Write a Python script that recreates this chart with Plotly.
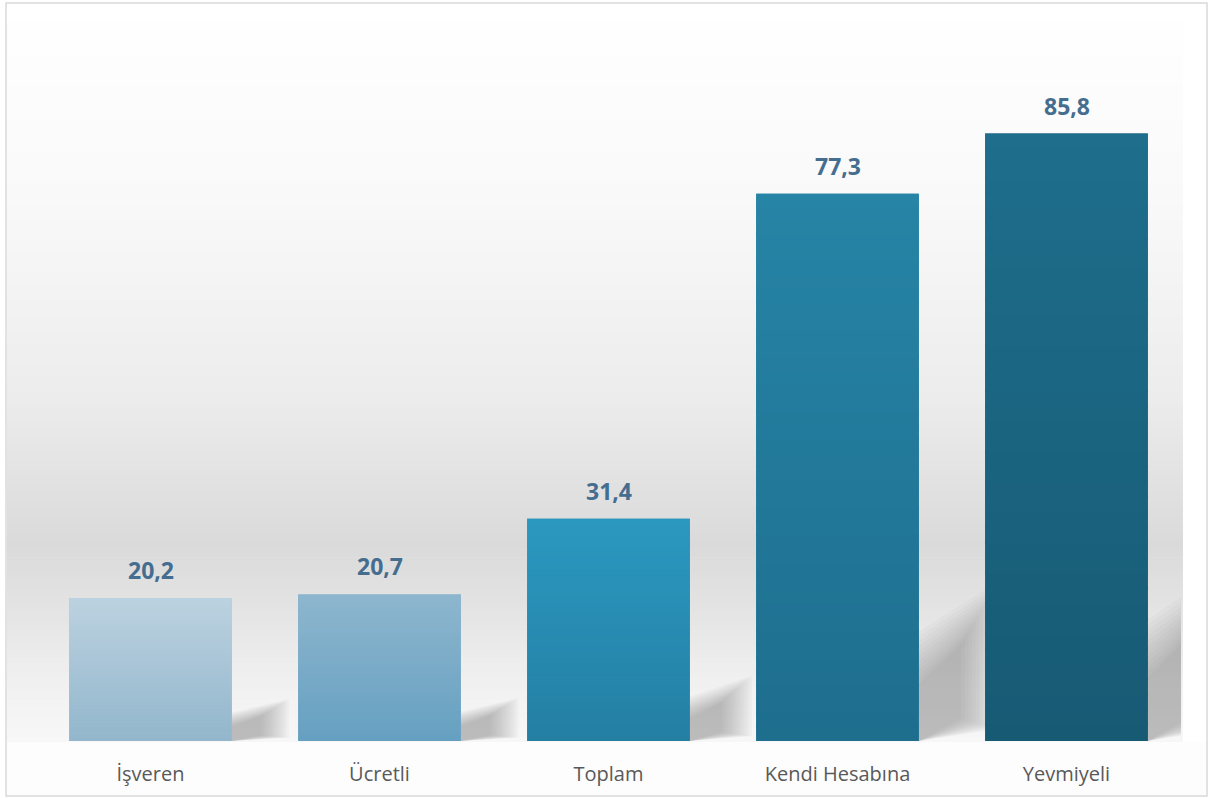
import plotly.graph_objects as go

categories = ["İşveren", "Ücretli", "Toplam", "Kendi Hesabına", "Yevmiyeli"]
values = [20.2, 20.7, 31.4, 77.3, 85.8]
bar_top_colors = ["#BCD2E0", "#8EB6CE", "#2B98C0", "#2684A6", "#1E6E8C"]
bar_bottom_colors = ["#92B6CC", "#65A0C1", "#247FA3", "#1E6E8E", "#175A74"]

W, H = 1211, 798
ML, MR, MT, MB = 36, 30, 33, 57
PW = W - ML - MR
PH = H - MT - MB
BAR_W = 0.71


def px_x(px):
    return (px - ML) / PW


def px_y(py):
    return (H - MB - py) / PH


def hex2rgb(h):
    h = h.lstrip("#")
    return [int(h[i:i + 2], 16) for i in (0, 2, 4)]


def mix(c0, c1, f):
    a, b = hex2rgb(c0), hex2rgb(c1)
    return "rgb(%d,%d,%d)" % tuple(round(x + (y - x) * f) for x, y in zip(a, b))


def lerp_col(stops, t):
    for (t0, c0), (t1, c1) in zip(stops, stops[1:]):
        if t0 <= t <= t1:
            f = 0 if t1 == t0 else (t - t0) / (t1 - t0)
            return int(round(c0 + (c1 - c0) * f))
    return stops[-1][1]


# background wall gradient (pixel y, gray level)
bg_stops = [(4, 255), (200, 249), (400, 236), (545, 218), (600, 226), (680, 240), (742, 247)]
shapes = []
N = 160
y_top, y_bot = 4, 742
for k in range(N):
    a = y_top + (y_bot - y_top) * k / N
    b = y_top + (y_bot - y_top) * (k + 1) / N
    g = lerp_col(bg_stops, (a + b) / 2)
    shapes.append(dict(type="rect", xref="paper", yref="paper",
                       x0=px_x(7), x1=px_x(1183), y0=px_y(b) - 0.0005, y1=px_y(a) + 0.0005,
                       fillcolor=f"rgb({g},{g},{g})", line=dict(width=0), layer="below"))
shapes.append(dict(type="rect", xref="paper", yref="paper",
                   x0=px_x(7), x1=px_x(1206), y0=px_y(795), y1=px_y(742),
                   fillcolor="#fdfdfd", line=dict(width=0), layer="below"))

# soft shadows to the right of each bar
NL = 12
for i, v in enumerate(values):
    xr = i + BAR_W / 2
    dx0 = 0.17 + 0.0015 * v
    for k in range(NL):
        e = -0.35 + 0.6 * k / (NL - 1)
        dx = dx0 * (1 + e)
        path = (f"M {xr},{0} L {xr},{0.16 * v * (1 + e)} "
                f"L {xr + dx},{0.245 * v * (1 + e * 0.8)} L {xr + dx},{0.03 * v * (1 - e)} Z")
        shapes.append(dict(type="path", xref="x", yref="y", path=path,
                           fillcolor="rgba(90,90,90,0.038)", line=dict(width=0), layer="below"))

# vertical gradient on the bars
NS = 40
for i, v in enumerate(values):
    for k in range(NS):
        y0 = v * k / NS
        y1 = v * (k + 1) / NS
        f = 1 - (k + 0.5) / NS
        shapes.append(dict(type="rect", xref="x", yref="y",
                           x0=i - BAR_W / 2, x1=i + BAR_W / 2, y0=y0, y1=min(v, y1 + v * 0.004),
                           fillcolor=mix(bar_top_colors[i], bar_bottom_colors[i], f),
                           line=dict(width=0), layer="above"))

# outer chart border
shapes.append(dict(type="rect", xref="paper", yref="paper",
                   x0=px_x(6), x1=px_x(1207), y0=px_y(796), y1=px_y(3),
                   fillcolor="rgba(0,0,0,0)", line=dict(color="#d9d9d9", width=1.5), layer="above"))

fig = go.Figure()
fig.add_trace(go.Bar(
    x=list(range(len(categories))), y=values, width=BAR_W,
    marker=dict(color=[mix(t, b, 0.5) for t, b in zip(bar_top_colors, bar_bottom_colors)],
                line=dict(width=0)),
    hoverinfo="skip",
))

annotations = []
for i, v in enumerate(values):
    annotations.append(dict(x=i, y=v, xref="x", yref="y", yanchor="bottom", yshift=10,
                            text=f"{v:.1f}".replace(".", ","), showarrow=False,
                            font=dict(family="Open Sans", size=23, color="#456D8F", weight="bold")))

fig.update_layout(
    width=W, height=H,
    margin=dict(l=ML, r=MR, t=MT, b=MB, pad=0),
    paper_bgcolor="white", plot_bgcolor="rgba(0,0,0,0)",
    shapes=shapes, annotations=annotations, showlegend=False,
    xaxis=dict(tickmode="array", tickvals=list(range(len(categories))), ticktext=categories,
               range=[-0.5, len(categories) - 0.5], showgrid=False, zeroline=False, showline=False,
               ticks="outside", ticklen=15, tickcolor="rgba(0,0,0,0)",
               tickfont=dict(family="Open Sans", size=20, color="#595959")),
    yaxis=dict(range=[0, 100], visible=False, showgrid=False, zeroline=False),
)
fig.write_html("out.html", config={"displayModeBar": False},
               post_script="document.body.style.margin='0';")
